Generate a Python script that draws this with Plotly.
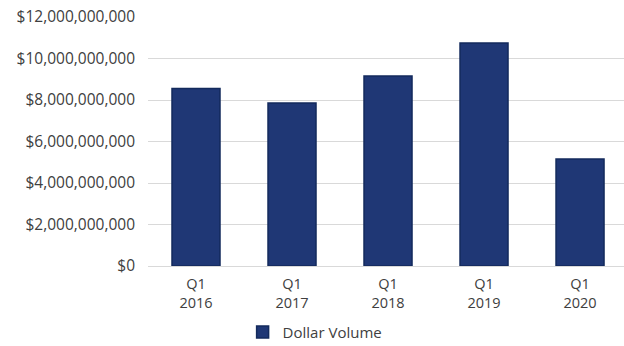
import plotly.graph_objects as go

categories = ["Q1<br>2016", "Q1<br>2017", "Q1<br>2018", "Q1<br>2019", "Q1<br>2020"]
dollar_volume = [8.56e9, 7.86e9, 9.16e9, 10.75e9, 5.16e9]
y_ticks = [0, 2e9, 4e9, 6e9, 8e9, 10e9, 12e9]
y_tick_labels = ["$0", "$2,000,000,000", "$4,000,000,000", "$6,000,000,000",
                 "$8,000,000,000", "$10,000,000,000", "$12,000,000,000"]

font_family = "Open Sans, Liberation Sans, sans-serif"
text_color = "#404040"

fig = go.Figure()
fig.add_trace(go.Bar(
    x=categories,
    y=dollar_volume,
    name="Dollar Volume",
    marker=dict(color="#1f3775", line=dict(color="#132a5c", width=1.5)),
    showlegend=True,
))

fig.update_layout(
    width=624, height=346,
    margin=dict(l=148, r=0, t=17, b=80),
    paper_bgcolor="white", plot_bgcolor="white",
    bargap=0.5,
    font=dict(family=font_family, size=14, color=text_color),
    showlegend=True,
    legend=dict(orientation="h", xref="container", yref="container",
                x=0.505, xanchor="center", y=0.04, yanchor="middle",
                font=dict(size=15, color=text_color), itemwidth=30),
    xaxis=dict(range=[-0.5, 4.458], showgrid=False, showline=True,
               linecolor="#d9d9d9", linewidth=1, ticks="",
               ticklabelstandoff=5,
               tickfont=dict(size=14.5, color=text_color)),
    yaxis=dict(range=[0, 12e9], tickvals=y_ticks, ticktext=y_tick_labels,
               showgrid=True, gridcolor="#d9d9d9", gridwidth=1,
               zeroline=False, showline=False, ticks="",
               ticklabelstandoff=12,
               tickfont=dict(size=15.5, color=text_color)),
)

fig.write_html("out.html")
